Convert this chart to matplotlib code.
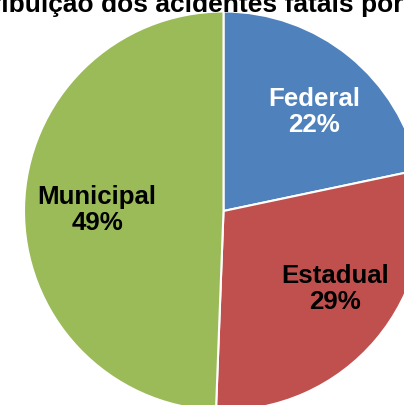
import matplotlib
matplotlib.use("Agg")
import matplotlib.pyplot as plt

categories = ["Federal", "Estadual", "Municipal"]
values = [21.7, 28.9, 49.4]
colors = ["#4F81BD", "#C0504D", "#9BBB59"]
text_colors = ["white", "black", "black"]
title = "Distribuição dos acidentes fatais por tipo de rodovia"

W, H = 404, 405
fig = plt.figure(figsize=(W / 100, H / 100), dpi=100)
ax = fig.add_axes([0, 0, 1, 1])
plt.rcParams['font.family'] = ['Liberation Sans', 'DejaVu Sans']

wedges, _ = ax.pie(values, colors=colors, startangle=90, counterclock=False,
                   center=(223.5, H - 211), radius=199.5,
                   wedgeprops=dict(edgecolor="white", linewidth=1.5))
ax.set_xlim(0, W)
ax.set_ylim(0, H)
ax.set_aspect("auto")
ax.axis("off")

label_pos = [(314, H - 112), (335, H - 289), (97, H - 210)]
for cat, v, (x, y), tc in zip(categories, values, label_pos, text_colors):
    ax.text(x, y, f"{cat}\n{round(v)}%", ha="center", va="center", fontsize=18.6,
            fontweight="bold", color=tc, linespacing=1.12,
            family="Liberation Sans")

# title (cropped at left in reference)
fs = 19.0
fig.canvas.draw()
r = fig.canvas.get_renderer()
tmp = fig.text(0, 0, "Distr", fontsize=fs, fontweight="bold", family="Liberation Sans")
wpx = tmp.get_window_extent(r).width
tmp.remove()
fig.text(-(wpx - 1) / W, 1 - 12 / H, title, ha="left", va="baseline", fontsize=fs,
         fontweight="bold", family="Liberation Sans")

fig.savefig("out.png", dpi=100)
